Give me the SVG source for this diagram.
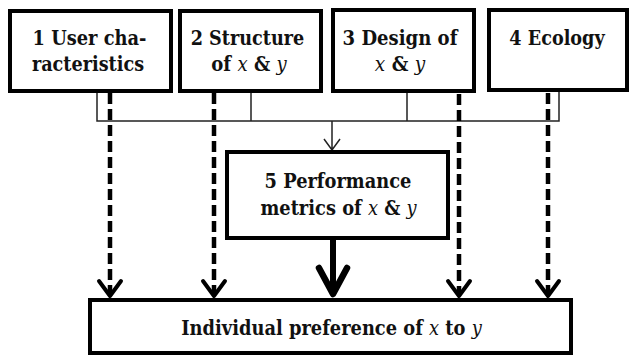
<svg xmlns="http://www.w3.org/2000/svg" width="631" height="356" viewBox="0 0 631 356">
  <style>
    .box { fill: #fff; stroke: #000; stroke-width: 4; }
    .lbl { font-family: 'DejaVu Serif', serif; font-size: 21px; font-weight: bold; fill: #111; text-anchor: middle; }
    .var { font-style: italic; font-weight: normal; }
    .thin { fill: none; stroke: #222; stroke-width: 1.5; }
    .dash { fill: none; stroke: #000; stroke-width: 4.5; stroke-dasharray: 11 5; }
    .head { fill: none; stroke: #000; stroke-width: 4; stroke-linecap: round; stroke-linejoin: round; }
    .solid { fill: none; stroke: #000; stroke-width: 6; }
    .headBig { fill: none; stroke: #000; stroke-width: 6.5; stroke-linecap: round; stroke-linejoin: round; }
  </style>

  <rect width="631" height="356" fill="#fff"/>

  <!-- connectors -->
  <g id="connectors">
    <!-- thin collector line from the four factors into node 5 -->
    <path class="thin" d="M97,92 V121 H559 V92 M251,92 V121 M407,92 V121"/>
    <path class="thin" d="M332,121 V150 M324,139 L332,150 L340,139"/>

    <!-- dashed direct effects on preference -->
    <path class="dash" d="M110,93 V294"/>
    <path class="dash" d="M214,93 V294"/>
    <path class="dash" d="M459,94 V294"/>
    <path class="dash" d="M548,93 V294"/>
    <path class="head" d="M99,281 L110,296 L121,281"/>
    <path class="head" d="M203,281 L214,296 L225,281"/>
    <path class="head" d="M448,281 L459,296 L470,281"/>
    <path class="head" d="M537,281 L548,296 L559,281"/>

    <!-- main effect of performance on preference -->
    <path class="solid" d="M333,240 V293"/>
    <path class="headBig" d="M319,268 L333,294 L347,268"/>
  </g>

  <!-- labels are set in a horizontally condensed serif -->
  <g id="node1">
    <rect class="box" x="10" y="11" width="161" height="80"/>
    <text class="lbl" transform="translate(89.5,45) scale(0.85,1)">1 User cha-</text>
    <text class="lbl" transform="translate(88,71) scale(0.84,1)">racteristics</text>
  </g>

  <g id="node2">
    <rect class="box" x="180" y="11" width="141" height="80"/>
    <text class="lbl" transform="translate(247.5,45) scale(0.84,1)">2 Structure</text>
    <text class="lbl" transform="translate(249,71) scale(0.86,1)">of <tspan class="var">x</tspan> &amp; <tspan class="var">y</tspan></text>
  </g>

  <g id="node3">
    <rect class="box" x="333" y="10" width="141" height="81"/>
    <text class="lbl" transform="translate(400,45) scale(0.86,1)">3 Design of</text>
    <text class="lbl" transform="translate(400,71) scale(0.88,1)"><tspan class="var">x</tspan> &amp; <tspan class="var">y</tspan></text>
  </g>

  <g id="node4">
    <rect class="box" x="489" y="10" width="138" height="80"/>
    <text class="lbl" transform="translate(557,45) scale(0.84,1)">4 Ecology</text>
  </g>

  <g id="node5">
    <rect class="box" x="227" y="152" width="221" height="86"/>
    <text class="lbl" transform="translate(338,188) scale(0.85,1)">5 Performance</text>
    <text class="lbl" transform="translate(338.5,215) scale(0.85,1)">metrics of <tspan class="var">x</tspan> &amp; <tspan class="var">y</tspan></text>
  </g>

  <g id="node6">
    <rect class="box" x="90" y="300" width="481" height="53"/>
    <text class="lbl" transform="translate(331.5,335) scale(0.85,1)">Individual preference of <tspan class="var">x</tspan> to <tspan class="var">y</tspan></text>
  </g>
</svg>
